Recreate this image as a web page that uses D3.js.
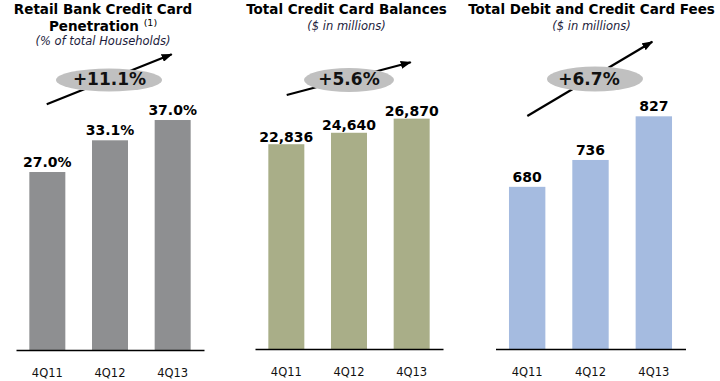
<!DOCTYPE html>
<html>
<head>
<meta charset="utf-8">
<script src="https://cdn.jsdelivr.net/npm/d3@7"></script>
<style>
  html, body { margin: 0; padding: 0; background: #fff; }
  svg { display: block; }
  text { font-family: "DejaVu Sans", Verdana, sans-serif; }
</style>
</head>
<body>
<svg id="chart" width="720" height="381"></svg>
<script>
// ---- data ----
const categories = ["4Q11", "4Q12", "4Q13"];
const penetration = [27.0, 33.1, 37.0];
const balances = [22836, 24640, 26870];
const fees = [680, 736, 827];
const growthLabels = ["+11.1%", "+5.6%", "+6.7%"];
const titles = [
  ["Retail Bank Credit Card", "Penetration"],
  ["Total Credit Card Balances"],
  ["Total Debit and Credit Card Fees"]
];
const subtitles = ["(% of total Households)", "($ in millions)", "($ in millions)"];
const footnoteMark = "(1)";

// ---- layout / style ----
const panels = [
  { values: penetration, fmt: v => d3.format(".1f")(v) + "%", color: "#8e8f91",
    xRange: [16, 204], base: 350, yDomain: [-7.23, 40.85], labelGap: 5,
    titleX: 103, titleY: [14, 30.5], subY: 45,
    ell: { cx: 109, cy: 80, rx: 53, ry: 11.5 }, growthX: 109.5,
    arrow: [[46.7, 104.3], [171.7, 54.3]] },
  { values: balances, fmt: d3.format(","), color: "#a9ae88",
    xRange: [255, 443], base: 349, yDomain: [-9446, 29807], labelGap: 2.5,
    titleX: 346.5, titleY: [14], subY: 29.5,
    ell: { cx: 349, cy: 80, rx: 45, ry: 12 }, growthX: 349,
    arrow: [[286.7, 95], [410.7, 62.3]] },
  { values: fees, fmt: d3.format("d"), color: "#a5bbe0",
    xRange: [495.5, 685.5], base: 349, yDomain: [342, 861], labelGap: 5,
    titleX: 591.5, titleY: [14], subY: 29.5,
    ell: { cx: 595, cy: 79, rx: 48, ry: 12.5 }, growthX: 589,
    arrow: [[527.3, 116], [652.3, 41.7]] }
];

const svg = d3.select("#chart");

svg.append("defs").append("marker")
  .attr("id", "arrowhead")
  .attr("markerUnits", "userSpaceOnUse")
  .attr("markerWidth", 11).attr("markerHeight", 8)
  .attr("refX", 10).attr("refY", 4)
  .attr("orient", "auto")
  .append("path").attr("d", "M0,0 L11,4 L0,8 Z").attr("fill", "#000");

panels.forEach((p, i) => {
  const g = svg.append("g");

  const x = d3.scaleBand().domain(categories).range(p.xRange)
    .paddingInner(0.4255).paddingOuter(0.2128);
  const y = d3.scaleLinear().domain(p.yDomain).range([p.base, 100]);

  // title
  const t = g.append("text").attr("text-anchor", "middle")
    .attr("font-weight", "bold").attr("font-size", 13.5).attr("fill", "#000");
  titles[i].forEach((line, j) => {
    t.append("tspan").attr("x", p.titleX).attr("y", p.titleY[j]).text(line);
    if (i === 0 && j === 1) {
      t.append("tspan").text(" ");
      t.append("tspan").attr("font-size", 9.5).attr("font-weight", "normal")
        .attr("dy", -5).text(footnoteMark);
    }
  });
  // subtitle
  g.append("text").attr("x", p.titleX).attr("y", p.subY)
    .attr("text-anchor", "middle").attr("font-style", "italic")
    .attr("font-size", 11.5).attr("fill", "#1c1c3c").text(subtitles[i]);

  // arrow (behind ellipse)
  g.append("line")
    .attr("x1", p.arrow[0][0]).attr("y1", p.arrow[0][1])
    .attr("x2", p.arrow[1][0]).attr("y2", p.arrow[1][1])
    .attr("stroke", "#000").attr("stroke-width", 2.2)
    .attr("marker-end", "url(#arrowhead)");
  g.append("ellipse")
    .attr("cx", p.ell.cx).attr("cy", p.ell.cy).attr("rx", p.ell.rx).attr("ry", p.ell.ry)
    .attr("fill", "#c0c0c0");
  g.append("text").attr("x", p.growthX).attr("y", 85).attr("text-anchor", "middle")
    .attr("font-weight", "bold").attr("font-size", 17).attr("fill", "#111")
    .text(growthLabels[i]);

  // bars
  g.selectAll("rect.bar").data(p.values).join("rect").attr("class", "bar")
    .attr("x", (d, k) => x(categories[k]))
    .attr("width", x.bandwidth())
    .attr("y", d => y(d))
    .attr("height", d => p.base - y(d))
    .attr("fill", p.color);

  // value labels
  g.selectAll("text.val").data(p.values).join("text").attr("class", "val")
    .attr("x", (d, k) => x(categories[k]) + x.bandwidth() / 2)
    .attr("y", d => y(d) - p.labelGap)
    .attr("text-anchor", "middle").attr("font-weight", "bold")
    .attr("font-size", 14).attr("fill", "#000")
    .text(d => p.fmt(d));

  // axis
  const ax = g.append("g").attr("transform", `translate(0,${p.base})`)
    .call(d3.axisBottom(x).tickSize(0).tickSizeOuter(0).tickPadding(19));
  ax.select(".domain").attr("stroke", "#000").attr("stroke-width", 1.4);
  ax.selectAll("text").attr("font-family", "DejaVu Sans, sans-serif")
    .attr("font-size", 11.5).attr("fill", "#111");
});
</script>
</body>
</html>
